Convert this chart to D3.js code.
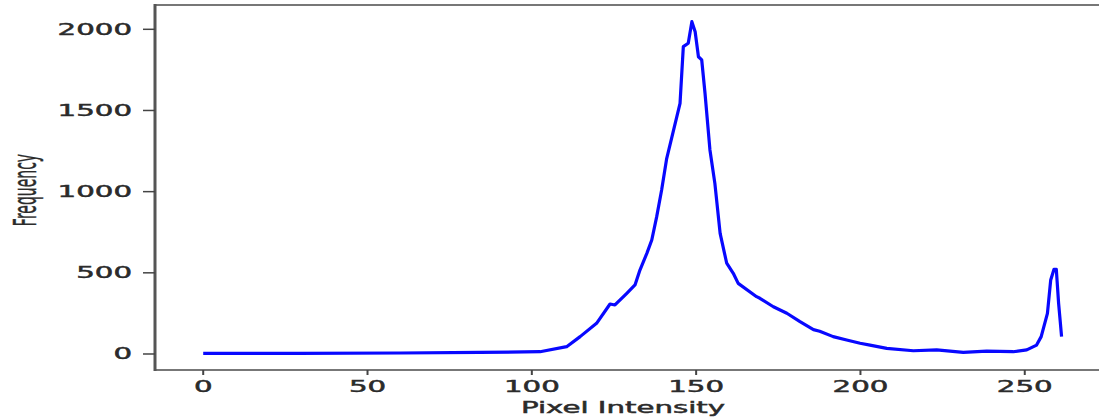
<!DOCTYPE html>
<html>
<head>
<meta charset="utf-8">
<script src="https://cdn.jsdelivr.net/npm/d3@7"></script>
<style>
  html, body { margin: 0; padding: 0; background: #fff; }
  svg { display: block; }
  text { font-family: "DejaVu Sans", sans-serif; fill: #2b2b2b; stroke: #2b2b2b; stroke-width: 0.45px; }
</style>
</head>
<body>
<svg id="chart" width="1099" height="420"></svg>
<script>
// ---- Data ----
const intensity = [0, 29, 60, 84, 102.5, 110.6, 114.7, 119.7, 123.8, 125.3, 128.9, 131.4, 132.9, 135.0, 136.5,
  138.0, 139.5, 141.0, 145.1, 146.1, 147.6, 148.7, 149.7, 150.7, 151.7, 152.7, 154.2, 155.7, 157.3, 159.3,
  161.3, 162.8, 168.4, 169.4, 173.5, 177.6, 181.6, 185.7, 187.6, 191.7, 195.8, 199.9, 202.9, 208.0, 216.1,
  223.2, 231.3, 238.4, 246.5, 250.6, 253.6, 255.0, 256.9, 257.9, 258.9, 259.6, 260.3, 260.8, 261.2];
const frequency = [4, 4, 6, 10, 14, 45, 107, 189, 308, 302, 374, 425, 517, 620, 702,
  846, 1010, 1200, 1544, 1893, 1914, 2047, 1985, 1831, 1811, 1606, 1257, 1051, 743, 559,
  497, 435, 353, 343, 291, 251, 199, 150, 140, 107, 86, 66, 55, 35, 20,
  25, 10, 18, 14, 25, 55, 107, 250, 456, 522, 522, 312, 200, 107];
const xTicks = [0, 50, 100, 150, 200, 250];
const yTicks = [0, 500, 1000, 1500, 2000];
const xLabel = "Pixel Intensity";
const yLabel = "Frequency";

// ---- Layout ----
const svg = d3.select("#chart");
const plotLeft = 155, plotTop = 5, plotBottom = 370;
const sx = 1.95; // horizontal stretch of the original figure

const x = d3.scaleLinear().domain([-14.67, 275]).range([plotLeft, plotLeft + (275 + 14.67) * 3.2862]);
const y = d3.scaleLinear().domain([-98.6, 2149.7]).range([plotBottom, plotTop]);

const points = intensity.map((v, i) => [v, frequency[i]]);

// data line
svg.append("path")
  .datum(points)
  .attr("fill", "none")
  .attr("stroke", "#0808ff")
  .attr("stroke-width", 3.2)
  .attr("stroke-linejoin", "round")
  .attr("d", d3.line().x(d => x(d[0])).y(d => y(d[1])));

// frame
const x0 = x.range()[0], x1 = x.range()[1];
svg.append("line").attr("x1", x0).attr("x2", x1).attr("y1", plotTop).attr("y2", plotTop)
  .attr("stroke", "#777").attr("stroke-width", 2);
svg.append("line").attr("x1", x0).attr("x2", x1).attr("y1", plotBottom).attr("y2", plotBottom)
  .attr("stroke", "#777").attr("stroke-width", 2);
svg.append("line").attr("x1", x0).attr("x2", x0).attr("y1", plotTop - 1).attr("y2", plotBottom + 1)
  .attr("stroke", "#555").attr("stroke-width", 3);

// x ticks
const xg = svg.append("g");
xg.selectAll("line").data(xTicks).join("line")
  .attr("x1", d => x(d)).attr("x2", d => x(d))
  .attr("y1", plotBottom).attr("y2", plotBottom + 5)
  .attr("stroke", "#444").attr("stroke-width", 2);
xg.selectAll("text").data(xTicks).join("text")
  .attr("transform", d => `translate(${x(d)},392) scale(${sx},1)`)
  .attr("text-anchor", "middle")
  .attr("font-size", 15)
  .text(d => d);

// y ticks
const yg = svg.append("g");
yg.selectAll("line").data(yTicks).join("line")
  .attr("x1", plotLeft - 12).attr("x2", plotLeft)
  .attr("y1", d => y(d)).attr("y2", d => y(d))
  .attr("stroke", "#444").attr("stroke-width", 1.5);
yg.selectAll("text").data(yTicks).join("text")
  .attr("transform", d => `translate(132,${y(d)}) scale(${sx},1)`)
  .attr("text-anchor", "end")
  .attr("dy", "0.36em")
  .attr("font-size", 15)
  .text(d => d);

// axis labels
svg.append("text")
  .attr("transform", `translate(623,413) scale(${sx},1)`)
  .attr("text-anchor", "middle")
  .attr("font-size", 15)
  .text(xLabel);

svg.append("text")
  .attr("transform", `translate(36,190) scale(2.25,1) rotate(-90)`)
  .attr("text-anchor", "middle")
  .attr("font-size", 14)
  .style("stroke-width", "0.2px")
  .text(yLabel);
</script>
</body>
</html>
